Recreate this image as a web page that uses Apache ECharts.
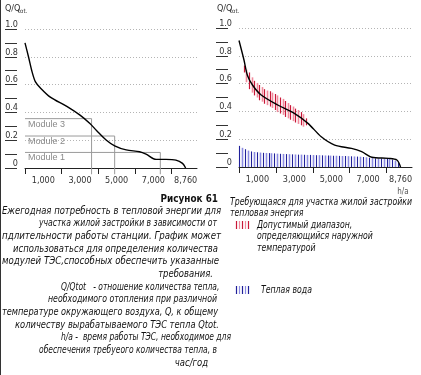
<!DOCTYPE html>
<html><head><meta charset="utf-8">
<script src="https://cdn.jsdelivr.net/npm/echarts@6/dist/echarts.min.js"></script>
<style>html,body{margin:0;padding:0;background:#fff}#c{width:421px;height:375px}</style>
</head><body><div id="c"></div>
<script>
// ---- data ----
const leftHours  = [0, 200, 390, 570, 840, 1380, 2280, 3000, 3540, 3900, 4440, 4890, 5520, 6245, 6600, 7150, 7690, 8230, 8590, 8760];
const leftDemand = [0.90, 0.795, 0.69, 0.62, 0.576, 0.51, 0.443, 0.38, 0.32, 0.27, 0.20, 0.16, 0.13, 0.117, 0.10, 0.062, 0.062, 0.057, 0.033, 0.0];
const rightHours  = [0, 270, 455, 730, 1185, 2100, 3000, 3740, 4460, 5190, 6100, 6650, 7200, 8110, 8560, 8760];
const rightDemand = [0.91, 0.77, 0.66, 0.59, 0.52, 0.446, 0.386, 0.314, 0.218, 0.158, 0.134, 0.11, 0.07, 0.062, 0.05, 0.0];

const moduleNames  = ['Module 1', 'Module 2', 'Module 3'];
const moduleLevels = [0.112, 0.23, 0.355];
const moduleHours  = [7380, 4890, 3630];

const redHours = [270, 400, 540, 680, 820, 960, 1100, 1240, 1380, 1520, 1660, 1800, 1940, 2080, 2220, 2360, 2500, 2640, 2780, 2920, 3060, 3200, 3340, 3480, 3620];
const redLow   = [0.68, 0.61, 0.56, 0.535, 0.515, 0.50, 0.48, 0.47, 0.455, 0.445, 0.435, 0.425, 0.41, 0.395, 0.385, 0.375, 0.36, 0.35, 0.34, 0.33, 0.32, 0.31, 0.30, 0.29, 0.30];
const redHigh  = [0.73, 0.70, 0.68, 0.645, 0.62, 0.605, 0.59, 0.575, 0.56, 0.55, 0.545, 0.535, 0.525, 0.515, 0.50, 0.49, 0.475, 0.46, 0.445, 0.435, 0.42, 0.41, 0.395, 0.38, 0.35];

const blueHours = [0,160,320,480,640,800,960,1120,1280,1440,1600,1760,1920,2080,2240,2400,2560,2720,2880,3040,3200,3360,3520,3680,3840,4000,4160,4320,4480,4640,4800,4960,5120,5280,5440,5600,5760,5920,6080,6240,6400,6560,6720,6880,7040,7200,7360,7520,7680,7840,8000,8160,8320,8480,8640];
const blueValues = [0.152,0.138,0.128,0.118,0.112,0.108,0.106,0.104,0.102,0.101,0.100,0.099,0.098,0.096,0.095,0.094,0.093,0.092,0.091,0.090,0.089,0.089,0.088,0.087,0.087,0.086,0.085,0.085,0.084,0.083,0.083,0.082,0.081,0.081,0.080,0.079,0.079,0.078,0.077,0.076,0.075,0.074,0.072,0.070,0.067,0.064,0.062,0.061,0.061,0.060,0.059,0.057,0.053,0.045,0.028];

const xTickValues  = [0, 2000, 4000, 6000, 8000];
const xLabelValues = [1000, 3000, 5000, 7000, 8760];
const xTickLabels  = ['1,000', '3,000', '5,000', '7,000', '8,760'];
const yLabelValues = [0, 0.2, 0.4, 0.6, 0.8, 1.0];
const yTickLabels  = ['0', '0.2', '0.4', '0.6', '0.8', '1.0'];
const yDashValues  = [0, 0.1, 0.2, 0.3, 0.4, 0.5, 0.6, 0.7, 0.8, 0.9, 1.0];

const captionTitle = 'Рисунок 61';
const captionLines = [
  'Ежегодная потребность в тепловой энергии для',
  'участка жилой застройки в зависимости от',
  'пдлительности работы станции. График может',
  'использоваться для определения количества',
  'модулей ТЭС,способных обеспечить указанные',
  'требования.',
  'Q/Qtot   - отношение количества тепла,',
  'необходимого отопления при различной',
  'температуре окружающего воздуха, Q, к общему',
  'количеству вырабатываемого ТЭС тепла Qtot.',
  'h/a -  время работы ТЭС, необходимое для',
  'обеспечения требуеого количества тепла, в',
  'час/год'
];
const rightTitleLines = ['Требующаяся для участка жилой застройки', 'тепловая энергия'];
const legendRangeLines = ['Допустимый диапазон,', 'определяющийся наружной', 'температурой'];
const legendWaterText = 'Теплая вода';
const xUnit = 'h/a';

// ---- layout / style ----
const TICK_FONT = '"Liberation Sans Narrow", "DejaVu Sans Condensed", sans-serif';
const CAP_FONT_FAMILY = '"Liberation Sans Narrow", "DejaVu Sans Condensed", sans-serif';
const RED = '#c81838', PINK = '#f08a9c', NAVY = '#20209a', LBLUE = '#8c8ce2';
const grids = [
  {left: 25, top: 29, width: 172, height: 139},
  {left: 239, top: 28, width: 173, height: 139}
];
const XMAX = 9380;

function xAxisFor(gi) {
  return {
    type: 'value', gridIndex: gi, min: 0, max: XMAX,
    splitLine: {show: false},
    axisLine: {show: true, lineStyle: {color: '#222', width: 1}},
    axisTick: {show: true, customValues: xTickValues, length: 6, lineStyle: {color: '#222', width: 1}},
    axisLabel: {show: true, customValues: xLabelValues, margin: 8, color: '#333',
      fontFamily: TICK_FONT, fontSize: 9,
      formatter: v => { const i = xLabelValues.indexOf(v); return i >= 0 ? xTickLabels[i] : ''; }}
  };
}
function yLabelAxis(gi, offset) {
  return {
    type: 'value', gridIndex: gi, position: 'left', min: 0, max: 1, interval: 0.2, offset: offset,
    axisLine: {show: false}, axisTick: {show: false},
    splitLine: {show: true, lineStyle: {color: '#b4b4b4', type: [1, 2], width: 1}},
    axisLabel: {show: true, margin: 0, align: 'right', verticalAlign: 'bottom', color: '#333',
      fontFamily: TICK_FONT, fontSize: 9,
      formatter: v => { const i = yLabelValues.findIndex(t => Math.abs(t - v) < 1e-6); return i >= 0 ? yTickLabels[i] : ''; }}
  };
}
function yDashAxis(gi, offset) {
  return {
    type: 'value', gridIndex: gi, position: 'left', min: 0, max: 1, offset: offset,
    axisLine: {show: false}, splitLine: {show: false}, axisLabel: {show: false},
    axisTick: {show: true, customValues: yDashValues, length: 12, lineStyle: {color: '#333', width: 1}}
  };
}

const series = [];
series.push({type: 'line', xAxisIndex: 0, yAxisIndex: 0, z: 5, smooth: 0.3,
  symbol: 'none', lineStyle: {color: '#000', width: 1.4},
  data: leftHours.map((h, i) => [h, leftDemand[i]])});
moduleNames.forEach((name, i) => {
  series.push({type: 'line', xAxisIndex: 0, yAxisIndex: 0, z: 3, symbol: 'none', clip: false,
    lineStyle: {color: '#9a9a9a', width: 1},
    data: [[0, moduleLevels[i]], [moduleHours[i], moduleLevels[i]], [moduleHours[i], -0.045]]});
  series.push({type: 'scatter', xAxisIndex: 0, yAxisIndex: 0, z: 4, symbolSize: 0, silent: true,
    label: {show: true, position: 'right', distance: 3, offset: [0, 5.5], formatter: name,
      color: '#6a6a6a', fontFamily: '"Liberation Sans", sans-serif', fontSize: 9},
    data: [[0, moduleLevels[i]]]});
});
series.push({type: 'custom', xAxisIndex: 1, yAxisIndex: 2, z: 2,
  encode: {x: 0, y: [1, 2]},
  data: blueHours.map((h, i) => [h, 0, blueValues[i]]),
  renderItem: (params, api) => {
    const p1 = api.coord([api.value(0), api.value(1)]);
    const p2 = api.coord([api.value(0), api.value(2)]);
    const x = Math.round(p1[0]) + 0.5;
    const odd = params.dataIndex % 2;
    return {type: 'line', shape: {x1: x, y1: p1[1], x2: x, y2: p2[1]},
      style: {stroke: odd ? LBLUE : NAVY, lineWidth: odd ? 1.6 : 1.1}};
  }});
series.push({type: 'custom', xAxisIndex: 1, yAxisIndex: 2, z: 3,
  encode: {x: 0, y: [1, 2]},
  data: redHours.map((h, i) => [h, redLow[i], redHigh[i]]),
  renderItem: (params, api) => {
    const p1 = api.coord([api.value(0), api.value(1)]);
    const p2 = api.coord([api.value(0), api.value(2)]);
    const x = Math.round(p1[0]) + 0.5;
    const odd = params.dataIndex % 2;
    return {type: 'line', shape: {x1: x, y1: p1[1], x2: x, y2: p2[1]},
      style: {stroke: odd ? PINK : RED, lineWidth: odd ? 1.6 : 1.2}};
  }});
series.push({type: 'line', xAxisIndex: 1, yAxisIndex: 2, z: 5, smooth: 0.3,
  symbol: 'none', lineStyle: {color: '#000', width: 1.4},
  data: rightHours.map((h, i) => [h, rightDemand[i]])});

// ---- graphic texts ----
const mctx = document.createElement('canvas').getContext('2d');
const capFont = 'italic 10.5px ' + CAP_FONT_FAMILY;
function widthOf(str, font) { mctx.font = font; return mctx.measureText(str).width || 1; }
function clampS(s) { return Math.max(0.8, Math.min(1.2, s)); }
function scaledText(str, x, yc, font, scale, align, color) {
  return {type: 'text', x: x, y: yc, scaleX: scale, silent: true,
    style: {text: str, x: 0, y: 0, font: font, fill: color || '#111',
      textAlign: align, textVerticalAlign: 'middle', align: align, verticalAlign: 'middle'}};
}
// spans [start, end] of each caption line; null start = natural width, right-aligned at end
const capSpans = [[2,221],[39,217],[2,221],[13,218],[2,219],[null,213],[61,219],[48,217],[2,218],[15,219],[61,217],[39,217],[null,208]];
const baseScale = clampS(219 / widthOf(captionLines[0], capFont));
const graphics = [];
graphics.push({type: 'line', silent: true, shape: {x1: 0.5, y1: 0, x2: 0.5, y2: 375}, style: {stroke: '#333', lineWidth: 1}});
graphics.push(scaledText(captionTitle, 218, 199, 'bold 11px ' + CAP_FONT_FAMILY, baseScale, 'right'));
captionLines.forEach((t, i) => {
  const [a, b] = capSpans[i];
  const y = 211 + 12.65 * i;
  if (a === null) graphics.push(scaledText(t, b, y, capFont, baseScale, 'right'));
  else graphics.push(scaledText(t, a, y, capFont, clampS((b - a) / widthOf(t, capFont)), 'left'));
});
[[5, 9], [217, 9]].forEach(([x, y]) => {
  graphics.push(scaledText('Q/Q', x, y, '9px ' + TICK_FONT, 1, 'left', '#333'));
  graphics.push(scaledText('tot.', x + 13, y + 2, '6px ' + TICK_FONT, 1, 'left', '#333'));
});
graphics.push(scaledText(xUnit, 403, 192, '8px ' + TICK_FONT, 1, 'center', '#555'));
const rScale = clampS(182 / widthOf(rightTitleLines[0], capFont));
graphics.push(scaledText(rightTitleLines[0], 230, 202, capFont, rScale, 'left'));
graphics.push(scaledText(rightTitleLines[1], 230, 213, capFont, rScale, 'left'));
const legY = [225, 236.5, 248];
legendRangeLines.forEach((t, i) => graphics.push(scaledText(t, 257, legY[i], capFont, rScale, 'left')));
graphics.push(scaledText(legendWaterText, 261, 290, capFont, rScale, 'left'));
function glyph(x0, yc, c1, c2) {
  for (let k = 0; k < 5; k++) {
    const x = x0 + k * 3 + 0.5;
    graphics.push({type: 'line', silent: true, shape: {x1: x, y1: yc - 4, x2: x, y2: yc + 4},
      style: {stroke: k % 2 ? c2 : c1, lineWidth: 1.2}});
  }
}
glyph(236, 225, RED, PINK);
glyph(236, 290, NAVY, LBLUE);

const chart = echarts.init(document.getElementById('c'), null, {renderer: 'canvas'});
chart.setOption({
  animation: false,
  backgroundColor: '#fff',
  grid: grids,
  xAxis: [xAxisFor(0), xAxisFor(1)],
  yAxis: [yLabelAxis(0, 7), yDashAxis(0, 8), yLabelAxis(1, 7), yDashAxis(1, 11)],
  series: series,
  graphic: {elements: graphics}
});
</script></body></html>
